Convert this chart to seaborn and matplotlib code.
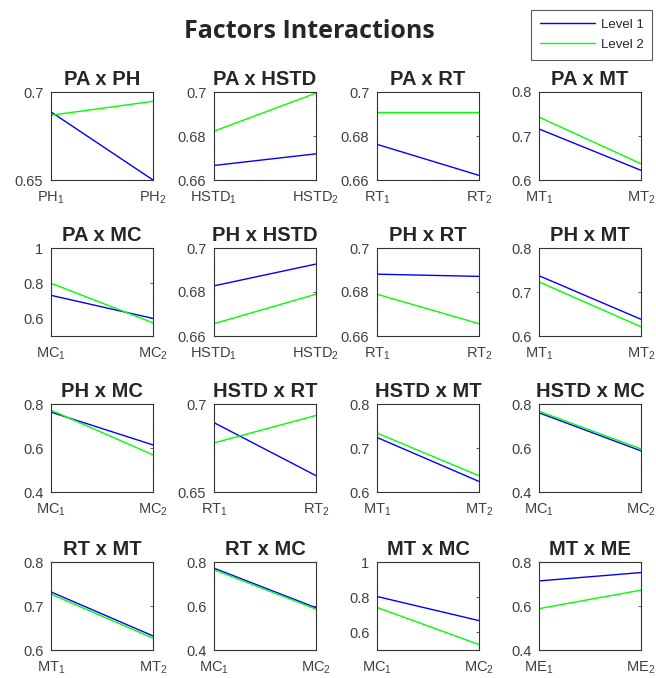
import matplotlib
matplotlib.use("Agg")
import matplotlib.pyplot as plt
import seaborn as sns
import pandas as pd

# Panel data
titles = ["PA x PH", "PA x HSTD", "PA x RT", "PA x MT",
          "PA x MC", "PH x HSTD", "PH x RT", "PH x MT",
          "PH x MC", "HSTD x RT", "HSTD x MT", "HSTD x MC",
          "RT x MT", "RT x MC", "MT x MC", "MT x ME"]
x_factors = ["PH", "HSTD", "RT", "MT",
             "MC", "HSTD", "RT", "MT",
             "MC", "RT", "MT", "MC",
             "MT", "MC", "MC", "ME"]
level1 = [[0.6887, 0.650], [0.6666, 0.6719], [0.6762, 0.6621], [0.716, 0.622],
          [0.731, 0.600], [0.6828, 0.6927], [0.6881, 0.6871], [0.737, 0.638],
          [0.763, 0.614], [0.6894, 0.6593], [0.724, 0.624], [0.760, 0.587],
          [0.732, 0.632], [0.772, 0.592], [0.804, 0.667], [0.714, 0.752]]
level2 = [[0.6868, 0.6947], [0.6822, 0.6995], [0.6908, 0.6908], [0.743, 0.637],
          [0.800, 0.575], [0.6656, 0.679], [0.679, 0.6656], [0.723, 0.621],
          [0.772, 0.569], [0.6779, 0.6935], [0.734, 0.637], [0.767, 0.596],
          [0.727, 0.627], [0.765, 0.586], [0.742, 0.531], [0.588, 0.672]]
y_limits = [(0.65, 0.7), (0.66, 0.7), (0.66, 0.7), (0.6, 0.8),
            (0.5, 1.0), (0.66, 0.7), (0.66, 0.7), (0.6, 0.8),
            (0.4, 0.8), (0.65, 0.7), (0.6, 0.8), (0.4, 0.8),
            (0.6, 0.8), (0.4, 0.8), (0.5, 1.0), (0.4, 0.8)]
y_ticks = [[0.65, 0.7], [0.66, 0.68, 0.7], [0.66, 0.68, 0.7], [0.6, 0.7, 0.8],
           [0.6, 0.8, 1.0], [0.66, 0.68, 0.7], [0.66, 0.68, 0.7], [0.6, 0.7, 0.8],
           [0.4, 0.6, 0.8], [0.65, 0.7], [0.6, 0.7, 0.8], [0.4, 0.6, 0.8],
           [0.6, 0.7, 0.8], [0.4, 0.6, 0.8], [0.6, 0.8, 1.0], [0.4, 0.6, 0.8]]
levels = ["Level 1", "Level 2"]

sns.set_style("white")
plt.rcParams["font.family"] = ["Liberation Sans", "DejaVu Sans"]
plt.rcParams["mathtext.fontset"] = "custom"
plt.rcParams["mathtext.rm"] = "Liberation Sans"
plt.rcParams["mathtext.it"] = "Liberation Sans"

palette = {"Level 1": "#0000ff", "Level 2": "#00ff00"}
tick_color = "#404040"

W, H = 656, 678
fig = plt.figure(figsize=(W / 100, H / 100), dpi=100)

col_left = [51, 214, 377, 539]
row_top = [92, 248, 404, 562]
ax_w, ax_h = 102, 88

handles = labels = None
for i, title in enumerate(titles):
    r, c = divmod(i, 4)
    ax = fig.add_axes([col_left[c] / W, 1 - (row_top[r] + ax_h) / H, ax_w / W, ax_h / H])
    df = pd.DataFrame({
        "x": [1, 2, 1, 2],
        "value": level1[i] + level2[i],
        "level": [levels[0]] * 2 + [levels[1]] * 2,
    })
    sns.lineplot(data=df, x="x", y="value", hue="level", palette=palette,
                 linewidth=1.0, ax=ax, legend=(i == 0))
    if i == 0:
        handles, labels = ax.get_legend_handles_labels()
        ax.get_legend().remove()
    f = x_factors[i]
    ax.set_xlim(1, 2)
    ax.set_ylim(*y_limits[i])
    ax.set_xticks([1, 2])
    ax.set_xticklabels([f"{f}$_1$", f"{f}$_2$"])
    ax.set_yticks(y_ticks[i])
    ax.set_yticklabels([f"{v:g}" for v in y_ticks[i]])
    ax.set_xlabel("")
    ax.set_ylabel("")
    ax.set_title(title, fontsize=14.5, fontweight="bold", pad=5)
    ax.tick_params(direction="in", length=2.5, width=0.6, top=True, right=True,
                   labelsize=10.5, colors=tick_color)
    ax.tick_params(axis="x", pad=7)
    ax.tick_params(axis="y", pad=5.5)
    for side in ax.spines.values():
        side.set_color("#333333")
        side.set_linewidth(0.8)

fig.text(309 / W, 1 - 32 / H, "Factors Interactions", ha="center", va="center",
         fontsize=18, fontweight="bold", family=["Open Sans", "DejaVu Sans"])

leg = fig.legend(handles, labels, loc="upper right",
                 bbox_to_anchor=(652 / W, 1 - 10 / H), borderaxespad=0,
                 fontsize=9.5, frameon=True, fancybox=False, handlelength=4.2,
                 borderpad=0.65, labelspacing=0.6, handletextpad=0.4)
leg.get_frame().set_edgecolor("#333333")
leg.get_frame().set_linewidth(0.8)
for t in leg.get_texts():
    t.set_color("#262626")

fig.savefig("out.png", dpi=100)
